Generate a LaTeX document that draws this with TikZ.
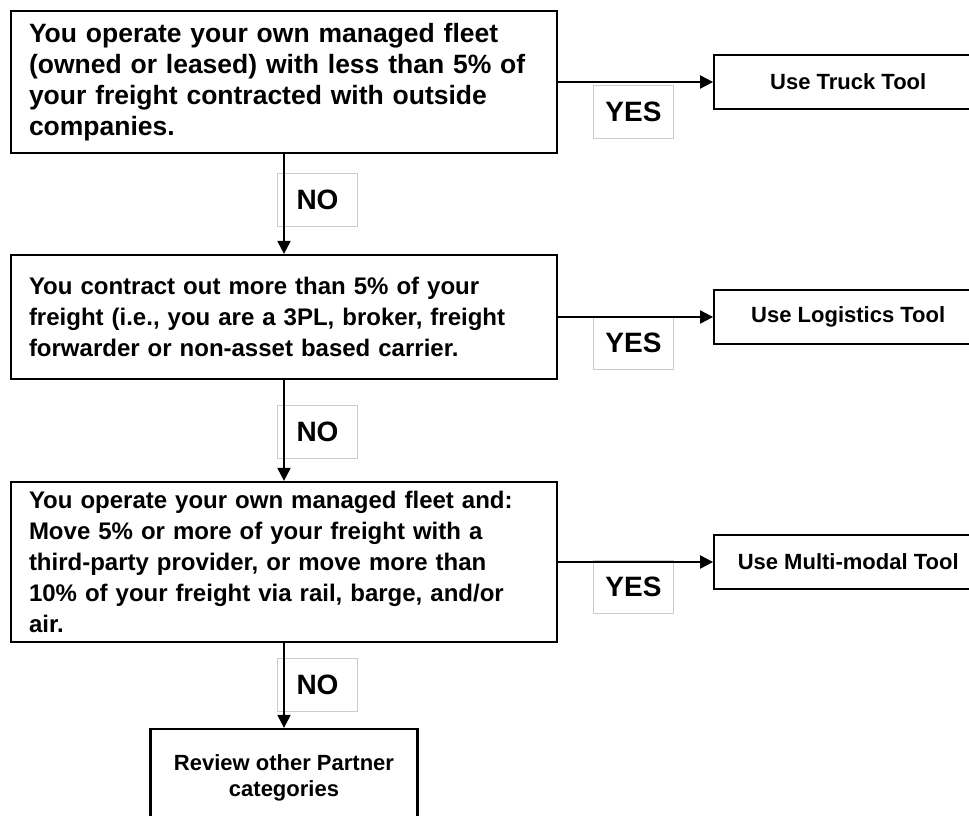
\documentclass[tikz,border=0pt]{standalone}
\usepackage{fontspec}
\setmainfont{Liberation Sans}
\usetikzlibrary{arrows.meta,positioning}

\begin{document}
\begin{tikzpicture}
  [x=1pt,y=-1pt,
    question/.style={
      draw=black, line width=2.2pt,
      inner xsep=18pt,
      text width=510pt,
      align=left,
      font=\fontsize{24}{31}\selectfont\bfseries,
    },
    toolbox/.style={
      draw=black, line width=2.2pt,
      minimum width=268pt, minimum height=54pt,
      font=\fontsize{22}{26}\selectfont\bfseries,
    },
    answer/.style={
      draw=black!20, line width=0.8pt, fill=white,
      minimum width=80pt, minimum height=53pt,
      font=\fontsize{28}{30}\selectfont\bfseries,
    },
    flow/.style={
      -{Triangle[length=13pt,width=13pt]}, line width=2pt
    }
  ]
  \useasboundingbox (0,0) rectangle (969,816);

  % the three questions
  \node[question, minimum height=142pt,
        font=\fontsize{26.5}{31}\selectfont\bfseries] (fleet) at (284,82)
    {You operate your own managed fleet\\
     (owned or leased) with less than 5\% of\\
     your freight contracted with outside\\
     companies.};
  \node[question, minimum height=124pt] (contract) at (284,317)
    {You contract out more than 5\% of your\\
     freight (i.e., you are a 3PL, broker, freight\\
     forwarder or non-asset based carrier.};
  \node[question, minimum height=160pt] (multi) at (284,562)
    {You operate your own managed fleet and:\\
     Move 5\% or more of your freight with a\\
     third-party provider, or move more than\\
     10\% of your freight via rail, barge, and/or\\
     air.};

  % where each answer leads
  \node[toolbox, right=155pt of fleet] (truck) {Use Truck Tool};
  \node[toolbox, right=155pt of contract] (logistics) {Use Logistics Tool};
  \node[toolbox, right=155pt of multi] (multimodal) {Use Multi-modal Tool};
  \node[toolbox, minimum width=267pt, minimum height=97pt, align=center]
    (review) at (284,777.5) {Review other Partner\\categories};

  % labels
  \node[answer] (yes1) at (633.5,112) {YES};
  \node[answer] (yes2) at (633.5,343) {YES};
  \node[answer] (yes3) at (633.5,587) {YES};
  \node[answer] (no1) at (317.5,200) {NO};
  \node[answer] (no2) at (317.5,432) {NO};
  \node[answer] (no3) at (317.5,684.5) {NO};

  \draw[flow] (fleet.east) -- (truck.west);
  \draw[flow] (contract.east) -- (logistics.west);
  \draw[flow] (multi.east) -- (multimodal.west);
  \draw[flow] (fleet.south) -- (contract.north);
  \draw[flow] (contract.south) -- (multi.north);
  \draw[flow] (multi.south) -- (review.north);
\end{tikzpicture}
\end{document}
